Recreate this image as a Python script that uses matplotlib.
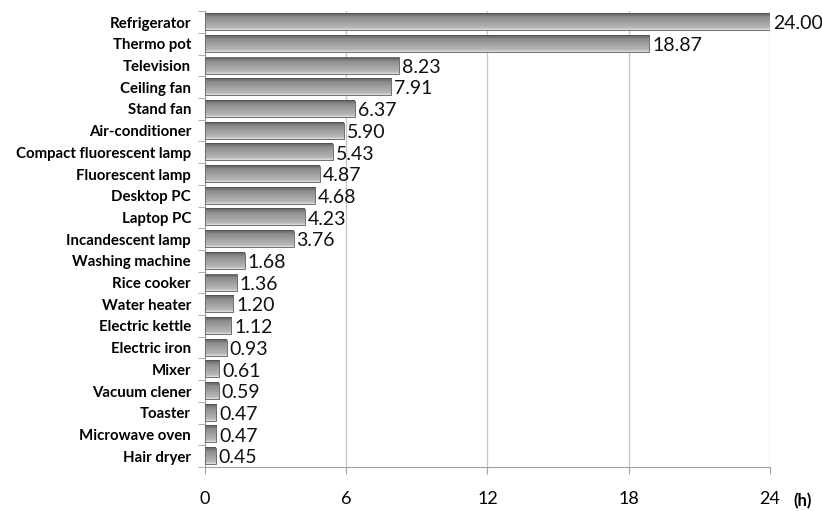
import numpy as np
import matplotlib.pyplot as plt
from matplotlib.colors import LinearSegmentedColormap

appliances = ["Refrigerator", "Thermo pot", "Television", "Ceiling fan", "Stand fan",
              "Air-conditioner", "Compact fluorescent lamp", "Fluorescent lamp",
              "Desktop PC", "Laptop PC", "Incandescent lamp", "Washing machine",
              "Rice cooker", "Water heater", "Electric kettle", "Electric iron",
              "Mixer", "Vacuum clener", "Toaster", "Microwave oven", "Hair dryer"]
hours = [24.00, 18.87, 8.23, 7.91, 6.37, 5.90, 5.43, 4.87, 4.68, 4.23, 3.76,
         1.68, 1.36, 1.20, 1.12, 0.93, 0.61, 0.59, 0.47, 0.47, 0.45]
xticks = [0, 6, 12, 18, 24]

plt.rcParams['font.family'] = ['Lato', 'DejaVu Sans']

fig = plt.figure(figsize=(8.22, 5.11), dpi=100)
ax = fig.add_axes([0.2494, 0.0861, 0.6873, 0.8919])

n = len(appliances)
ypos = np.arange(n)
bh = 0.74

# shaded grey bars: thin light top edge, mid grey body, dark bottom
shade = LinearSegmentedColormap.from_list(
    "bar", [(0, "#e2e2e2"), (0.12, "#b8b8b8"), (0.45, "#a2a2a2"),
            (0.8, "#8a8a8a"), (1, "#4e4e4e")])
grad = np.linspace(0, 1, 64).reshape(-1, 1)
for y, v in zip(ypos, hours):
    ax.imshow(grad, cmap=shade, aspect='auto', extent=(0, v, y - bh / 2, y + bh / 2),
              origin='upper', zorder=3, interpolation='bilinear')
    ax.barh(y, v, height=bh, facecolor='none', edgecolor='#707070', linewidth=0.7, zorder=4)
    ax.text(v + 0.12, y + 0.08, f"{v:.2f}", va='center', ha='left', fontsize=14,
            color='#111111', zorder=5)

ax.set_xlim(0, 24)
ax.set_ylim(n - 0.5, -0.5)
ax.set_xticks(xticks)
ax.set_xticklabels([str(t) for t in xticks], fontsize=13)
ax.tick_params(axis='x', length=5, color='#a0a0a0', pad=12.5)
ax.set_yticks(ypos)
ax.set_yticklabels(appliances, fontsize=10.8, fontweight='bold')
ax.tick_params(axis='y', length=0, pad=10)
ax.set_yticks(np.arange(n + 1) - 0.5, minor=True)
ax.tick_params(axis='y', which='minor', length=5, color='#a0a0a0')

ax.grid(axis='x', color='#c8c8c8', linewidth=1, zorder=0)
for s in ['top', 'right']:
    ax.spines[s].set_visible(False)
for s in ['left', 'bottom']:
    ax.spines[s].set_color('#a0a0a0')

ax.text(1.057, -0.0746, "(h)", transform=ax.transAxes, fontsize=12, fontweight='bold',
        ha='center', va='center')

fig.savefig("out.png", dpi=100)
